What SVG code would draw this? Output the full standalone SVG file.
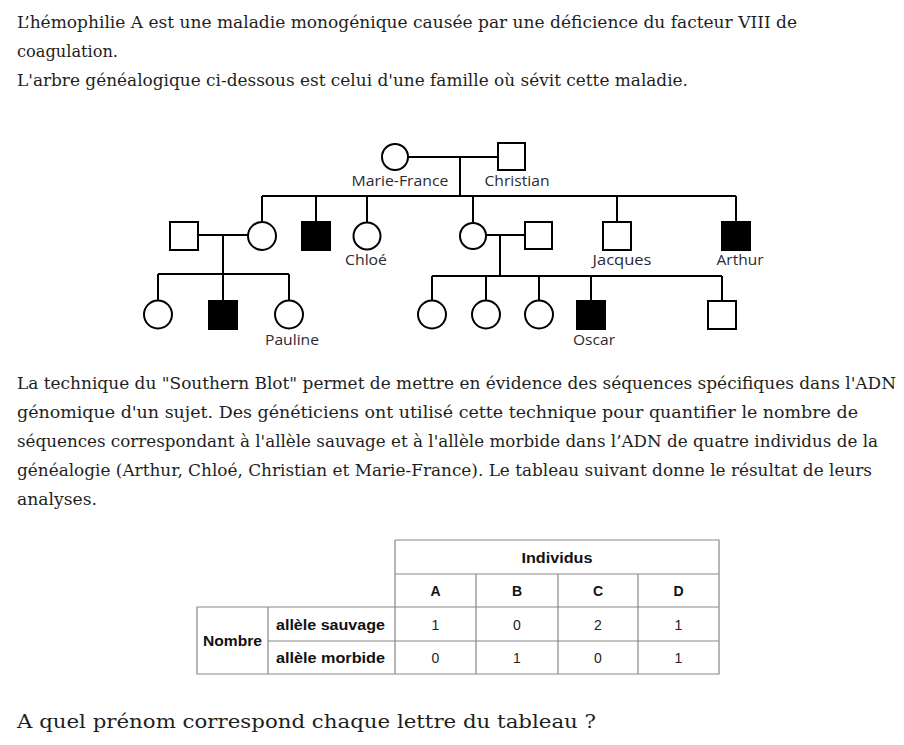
<svg xmlns="http://www.w3.org/2000/svg" width="904" height="745" viewBox="0 0 904 745">
<style>
.body{font-family:"DejaVu Serif","Liberation Serif",serif;font-size:16px;fill:#1e1e1e}
.q{font-size:18.5px}
.lbl{font-family:"Open Sans","Liberation Sans",sans-serif;font-size:14px;fill:#2a2a33;text-anchor:middle}
.sh{fill:#fff;stroke:#000;stroke-width:2}
.aff{fill:#000;stroke:#000;stroke-width:2}
.ln{fill:none;stroke:#000;stroke-width:2}
.tb{fill:none;stroke:#888;stroke-width:1.2}
.th{font-family:"Liberation Sans",Arial,sans-serif;font-size:14px;font-weight:bold;fill:#111}
.td{font-family:"Liberation Sans",Arial,sans-serif;font-size:14px;fill:#222;text-anchor:middle}
</style>
<rect width="904" height="745" fill="#fff"/>
<g id="intro">
<text class="body" x="17" y="28" textLength="780" lengthAdjust="spacingAndGlyphs">L’hémophilie A est une maladie monogénique causée par une déficience du facteur VIII de</text>
<text class="body" x="17" y="57" textLength="101" lengthAdjust="spacingAndGlyphs">coagulation.</text>
<text class="body" x="17" y="86" textLength="671" lengthAdjust="spacingAndGlyphs">L'arbre généalogique ci-dessous est celui d'une famille où sévit cette maladie.</text>
</g>
<g id="connectors">
<path class="ln" d="M408 157H498 M460 157V196 M262 196H736 M262 196V222 M316 196V222 M367 196V222 M473 196V222 M617 196V222 M736 196V222"/>
<path class="ln" d="M198 235H248 M223 235V274 M158 274H289 M158 274V300 M223 274V301 M289 274V300"/>
<path class="ln" d="M486 235H525 M500 235V276 M432 276H722 M432 276V300 M486 276V300 M539 276V300 M591 276V301 M722 276V301"/>
</g>
<g id="marie-france"><circle class="sh" cx="395" cy="157" r="13"/><text class="lbl" x="400" y="186" textLength="97" lengthAdjust="spacingAndGlyphs">Marie-France</text></g>
<g id="christian"><rect class="sh" x="498" y="143" width="27" height="27"/><text class="lbl" x="517" y="186" textLength="65" lengthAdjust="spacingAndGlyphs">Christian</text></g>
<g id="spouse-left"><rect class="sh" x="170" y="222" width="28" height="28"/></g>
<g id="daughter1"><circle class="sh" cx="262" cy="236" r="14"/></g>
<g id="son-affected"><rect class="aff" x="302" y="222" width="28" height="28"/></g>
<g id="chloe"><circle class="sh" cx="367" cy="236" r="13.5"/><text class="lbl" x="366" y="265" textLength="42" lengthAdjust="spacingAndGlyphs">Chloé</text></g>
<g id="daughter2"><circle class="sh" cx="473" cy="236" r="13"/></g>
<g id="spouse-right"><rect class="sh" x="525" y="222" width="27" height="27"/></g>
<g id="jacques"><rect class="sh" x="603" y="222" width="28" height="28"/><text class="lbl" x="622" y="265" textLength="59" lengthAdjust="spacingAndGlyphs">Jacques</text></g>
<g id="arthur"><rect class="aff" x="722" y="222" width="28" height="28"/><text class="lbl" x="740" y="265" textLength="47" lengthAdjust="spacingAndGlyphs">Arthur</text></g>
<g id="g3-1"><circle class="sh" cx="158" cy="314.5" r="14"/></g>
<g id="g3-2"><rect class="aff" x="209" y="301" width="28" height="28"/></g>
<g id="pauline"><circle class="sh" cx="289" cy="314.5" r="14"/><text class="lbl" x="292" y="345" textLength="54" lengthAdjust="spacingAndGlyphs">Pauline</text></g>
<g id="g3-4"><circle class="sh" cx="432" cy="314.5" r="14"/></g>
<g id="g3-5"><circle class="sh" cx="486" cy="314.5" r="14"/></g>
<g id="g3-6"><circle class="sh" cx="539" cy="314.5" r="14"/></g>
<g id="oscar"><rect class="aff" x="577" y="301" width="28" height="28"/><text class="lbl" x="594" y="345" textLength="42" lengthAdjust="spacingAndGlyphs">Oscar</text></g>
<g id="g3-8"><rect class="sh" x="708" y="301" width="28" height="28"/></g>
<g id="para2">
<text class="body" x="17" y="389" textLength="879" lengthAdjust="spacingAndGlyphs">La technique du "Southern Blot" permet de mettre en évidence des séquences spécifiques dans l'ADN</text>
<text class="body" x="17" y="418" textLength="841" lengthAdjust="spacingAndGlyphs">génomique d'un sujet. Des généticiens ont utilisé cette technique pour quantifier le nombre de</text>
<text class="body" x="17" y="447" textLength="861" lengthAdjust="spacingAndGlyphs">séquences correspondant à l'allèle sauvage et à l'allèle morbide dans l’ADN de quatre individus de la</text>
<text class="body" x="17" y="476" textLength="855" lengthAdjust="spacingAndGlyphs">généalogie (Arthur, Chloé, Christian et Marie-France). Le tableau suivant donne le résultat de leurs</text>
<text class="body" x="17" y="505" textLength="80" lengthAdjust="spacingAndGlyphs">analyses.</text>
</g>
<g id="table">
<path class="tb" d="M395 540H719V674H197V607H719 M395 574H719 M268 641H719 M395 540V674 M268 607V674 M476 574V674 M558 574V674 M638 574V674"/>
<text class="th" x="557" y="563" text-anchor="middle" textLength="71" lengthAdjust="spacingAndGlyphs">Individus</text>
<text class="th" x="435.5" y="596" text-anchor="middle">A</text>
<text class="th" x="517" y="596" text-anchor="middle">B</text>
<text class="th" x="598" y="596" text-anchor="middle">C</text>
<text class="th" x="678.5" y="596" text-anchor="middle">D</text>
<text class="th" x="203" y="646" textLength="59" lengthAdjust="spacingAndGlyphs">Nombre</text>
<text class="th" x="276" y="630" textLength="109" lengthAdjust="spacingAndGlyphs">allèle sauvage</text>
<text class="th" x="276" y="663" textLength="109" lengthAdjust="spacingAndGlyphs">allèle morbide</text>
<text class="td" x="435.5" y="630">1</text><text class="td" x="517" y="630">0</text><text class="td" x="598" y="630">2</text><text class="td" x="678.5" y="630">1</text>
<text class="td" x="435.5" y="663">0</text><text class="td" x="517" y="663">1</text><text class="td" x="598" y="663">0</text><text class="td" x="678.5" y="663">1</text>
</g>
<g id="question"><text class="body q" x="17" y="728" textLength="579" lengthAdjust="spacingAndGlyphs">A quel prénom correspond chaque lettre du tableau ?</text></g>
</svg>
